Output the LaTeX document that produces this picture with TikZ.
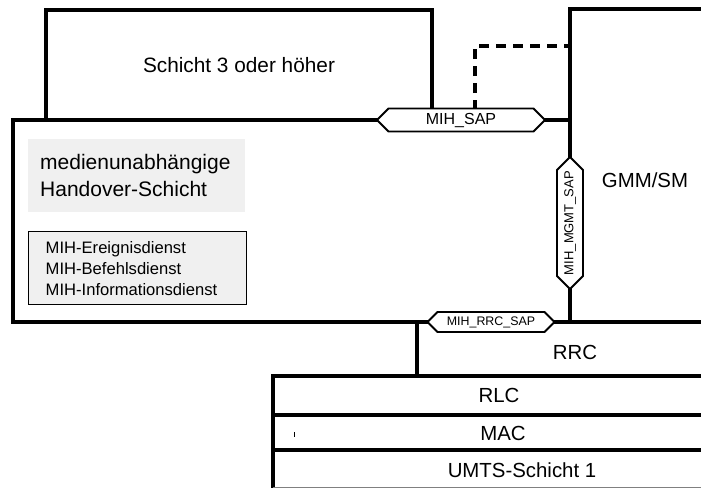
\documentclass[tikz,border=0pt]{standalone}
\usepackage{fontspec}
\setmainfont{Liberation Sans}
\usetikzlibrary{shapes.symbols}

\tikzset{
  layer/.style={line width=3.6pt},
  sapbox/.style={draw, line width=1.8pt, fill=white, signal, signal to=east and west,
    inner sep=1pt, text=black},
  lbl/.style={font=\fontsize{20.4pt}{24pt}\selectfont},
}

\begin{document}
\begin{tikzpicture}[x=1pt, y=-1pt]
  \useasboundingbox (0,0) rectangle (701,488);

  % Layer 3 and the media independent handover layer
  \node[draw, layer, minimum width=386pt, minimum height=110pt,
        font=\fontsize{20.8pt}{24pt}\selectfont] (l3) at (239,65) {Schicht 3 oder höher};
  \node[draw, layer, minimum width=557pt, minimum height=202pt] (mih) at (291.5,221) {};

  % GMM/SM block, open to the right
  \coordinate (gmmtr) at (701,9);
  \coordinate (gmmtl) at (570,9);
  \coordinate (gmmbl) at (570,322);
  \coordinate (gmmbr) at (701,322);
  \draw[layer] (gmmtr) -- (gmmtl) -- (gmmbl) -- (gmmbr);
  \node[lbl] (gmm) at (645,180) {GMM/SM};

  % dashed link from layer 3 to GMM/SM
  \coordinate (dashbot) at (475,110);
  \coordinate (dashend) at (570,46);
  \draw[line width=4pt, dash pattern=on 10pt off 7pt] (dashbot) |- (dashend);

  % RRC
  \coordinate (rrctop) at (417,322);
  \coordinate (rrcbot) at (417,376);
  \draw[layer] (rrctop) -- (rrcbot);
  \node[lbl] (rrc) at (575,352) {RRC};

  % lower UMTS layers
  \coordinate (stkr) at (701,376);
  \coordinate (stkl) at (273,376);
  \coordinate (stkb) at (273,488);
  \draw[layer] (stkr) -- (stkl) -- (stkb);
  \coordinate (rlcl) at (273,415);
  \coordinate (rlcr) at (701,415);
  \coordinate (macl) at (273,450);
  \coordinate (macr) at (701,450);
  \draw[layer] (rlcl) -- (rlcr);
  \draw[layer] (macl) -- (macr);
  \coordinate (botl) at (273,487.5);
  \coordinate (botr) at (701,487.5);
  \draw[gray, line width=1pt] (botl) -- (botr);
  \node[lbl] (rlc) at (499,395) {RLC};
  \node[lbl] (mac) at (503,433) {MAC};
  \node[lbl] (phy) at (522,470) {UMTS-Schicht 1};
  \coordinate (ticka) at (294,432);
  \coordinate (tickb) at (294,437);
  \draw[line width=1pt] (ticka) -- (tickb);

  % contents of the MIH layer
  \node[fill=gray!12, anchor=north west, minimum width=217pt, minimum height=73pt,
        text width=193pt, inner xsep=12pt, align=left,
        font=\fontsize{21pt}{27pt}\selectfont] (mihname) at (28,139)
        {medienunabhängige\\Handover-Schicht};
  \node[draw, line width=1.4pt, fill=gray!12, anchor=north west, minimum width=218pt,
        minimum height=73pt, text width=184pt, inner xsep=17pt, align=left,
        font=\fontsize{16.6pt}{21pt}\selectfont] (services) at (28,231)
        {MIH-Ereignisdienst\\MIH-Befehlsdienst\\MIH-Informationsdienst};

  % service access points
  \node[sapbox, minimum width=168pt, minimum height=23pt,
        font=\fontsize{16pt}{18pt}\selectfont] (sap) at (461,120) {MIH\_SAP};
  \node[sapbox, rotate=90, minimum width=120pt, minimum height=26pt,
        font=\fontsize{13pt}{15pt}\selectfont] (mgmt) at (570,223) {MIH\_MGMT\_SAP};
  \node[sapbox, minimum width=127pt, minimum height=20pt,
        font=\fontsize{12.4pt}{14pt}\selectfont] (rrcsap) at (491,322) {MIH\_RRC\_SAP};
\end{tikzpicture}
\end{document}
